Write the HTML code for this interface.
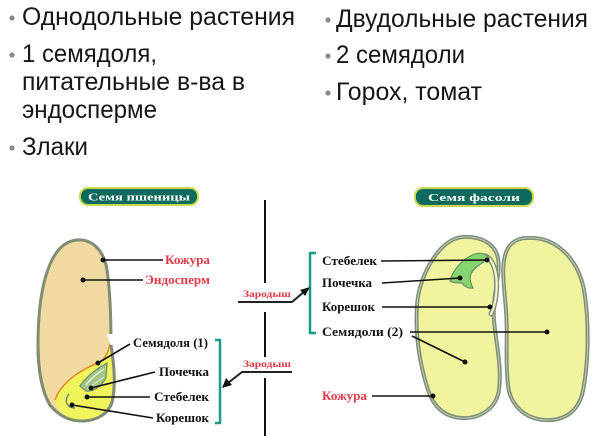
<!DOCTYPE html>
<html><head><meta charset="utf-8"><style>
html,body{margin:0;padding:0;background:#fff;}
svg{display:block;}
.t{font-family:"Liberation Sans","Noto Sans CJK SC",sans-serif;font-size:25px;fill:#161616;}
.l{font-family:"Liberation Serif","Noto Serif CJK SC",serif;font-size:13px;font-weight:bold;fill:#111;}
.r{fill:#e03a48;}
.z{font-family:"Liberation Serif",serif;font-size:9.5px;font-weight:bold;fill:#e03a48;}
.b{font-family:"Liberation Serif",serif;font-size:11px;font-weight:bold;fill:#fff;}
</style></head><body>
<svg width="600" height="436" viewBox="0 0 600 436" xmlns="http://www.w3.org/2000/svg">
<rect width="600" height="436" fill="#fff"/>
<!-- top text -->
<g fill="#8a8a8a">
<circle cx="12" cy="18" r="2.6"/><circle cx="12" cy="55" r="2.6"/><circle cx="12" cy="148" r="2.6"/>
<circle cx="328" cy="20" r="2.6"/><circle cx="328" cy="56" r="2.6"/><circle cx="328" cy="93" r="2.6"/>
</g>
<text class="t" x="22" y="25" textLength="273" lengthAdjust="spacingAndGlyphs">Однодольные растения</text>
<text class="t" x="22" y="62" textLength="135" lengthAdjust="spacingAndGlyphs">1 семядоля,</text>
<text class="t" x="22" y="90" textLength="223" lengthAdjust="spacingAndGlyphs">питательные в-ва в</text>
<text class="t" x="22" y="118" textLength="135" lengthAdjust="spacingAndGlyphs">эндосперме</text>
<text class="t" x="22" y="155" textLength="66" lengthAdjust="spacingAndGlyphs">Злаки</text>
<text class="t" x="336" y="27" textLength="252" lengthAdjust="spacingAndGlyphs">Двудольные растения</text>
<text class="t" x="336" y="63" textLength="129" lengthAdjust="spacingAndGlyphs">2 семядоли</text>
<text class="t" x="336" y="100" textLength="146" lengthAdjust="spacingAndGlyphs">Горох, томат</text>

<!-- badges -->
<rect x="80" y="188" width="118" height="17" rx="8" fill="#0d6a5c" stroke="#c9d94c" stroke-width="2"/>
<text class="b" x="88" y="200.5" textLength="102" lengthAdjust="spacingAndGlyphs">Семя пшеницы</text>
<rect x="415" y="188" width="118" height="18" rx="8" fill="#0d6a5c" stroke="#c9d94c" stroke-width="2"/>
<text class="b" x="428" y="201" textLength="92" lengthAdjust="spacingAndGlyphs">Семя фасоли</text>

<!-- center line -->
<g stroke="#111" stroke-width="2">
<line x1="265" y1="200" x2="265" y2="283"/>
<line x1="265" y1="312" x2="265" y2="357"/>
<line x1="265" y1="378" x2="265" y2="436"/>
</g>

<!-- wheat seed -->
<path d="M77 240 C92 239,104 250,107 270 C110 290,111 320,111 345 C114 365,116 385,112 402 C108 415,95 421,82 421 C68 421,58 415,50 405 C42 392,38 370,38 345 C38 310,42 280,52 260 C58 248,66 241,77 240 Z" fill="#f1d9a2" stroke="#7f8d74" stroke-width="3"/>
<path d="M55 400 C62 380,85 368,100 362 C106 358,109 350,110 344 L112 350 C115 370,116 390,112 402 C108 415,95 421,82 421 C68 421,58 413,55 400 Z" fill="#f0f45c"/>
<path d="M55 400 C62 380,85 368,100 362 C106 358,109 350,110 344" fill="none" stroke="#e08a2a" stroke-width="1.5"/>
<path d="M107 334 L113 334 L114 350 L110 344 Z" fill="#fff"/>
<path d="M80 386 C86 377,96 369,107 363 L106 378 C101 387,93 392,86 391 Z" fill="#a4c684" stroke="#6f8f70" stroke-width="1.2"/>
<path d="M86 385 C91 378,98 373,104 369" fill="none" stroke="#e8efe0" stroke-width="1.5"/>
<path d="M88 389 C93 384,98 381,104 377" fill="none" stroke="#d8e8c8" stroke-width="1.2"/>
<path d="M69 394 C64 400,66 408,75 408" fill="none" stroke="#6f8f70" stroke-width="1.5"/>
<path d="M38 345 C38 370,42 392,50 405 C58 415,68 421,82 421 C95 421,108 415,112 402 C116 385,114 365,111 345" fill="none" stroke="#7f8d74" stroke-width="3"/>

<!-- wheat labels -->
<g stroke="#111" stroke-width="1.6" fill="none">
<line x1="103" y1="260" x2="163" y2="260"/>
<line x1="83" y1="280" x2="143" y2="280"/>
<line x1="130" y1="344" x2="98" y2="363"/>
<line x1="155" y1="372" x2="91" y2="388"/>
<line x1="150" y1="397" x2="87" y2="397"/>
<line x1="153" y1="418" x2="72" y2="405"/>
</g>
<g fill="#111">
<circle cx="103" cy="260" r="2.5"/><circle cx="83" cy="280" r="2.5"/><circle cx="98" cy="363" r="2.5"/>
<circle cx="91" cy="388" r="2.5"/><circle cx="87" cy="397" r="2.5"/><circle cx="72" cy="405" r="2.5"/>
</g>
<text class="l r" x="210" y="264" text-anchor="end" textLength="45" lengthAdjust="spacingAndGlyphs">Кожура</text>
<text class="l r" x="210" y="284" text-anchor="end" textLength="65" lengthAdjust="spacingAndGlyphs">Эндосперм</text>
<text class="l" x="208" y="347" text-anchor="end" textLength="75" lengthAdjust="spacingAndGlyphs">Семядоля (1)</text>
<text class="l" x="209" y="376" text-anchor="end" textLength="50" lengthAdjust="spacingAndGlyphs">Почечка</text>
<text class="l" x="209" y="401" text-anchor="end" textLength="55" lengthAdjust="spacingAndGlyphs">Стебелек</text>
<text class="l" x="209" y="422" text-anchor="end" textLength="53" lengthAdjust="spacingAndGlyphs">Корешок</text>

<!-- brackets -->
<path d="M215 340 L220 340 L220 423 L215 423" fill="none" stroke="#1a9a8a" stroke-width="2.5"/>
<path d="M316 253 L310 253 L310 333 L316 333" fill="none" stroke="#1a9a8a" stroke-width="2.5"/>

<!-- Зародыш arrows -->
<text class="z" x="243" y="297" textLength="48" lengthAdjust="spacingAndGlyphs">Зародыш</text>
<polyline points="238,302 292,302 305,291" fill="none" stroke="#222" stroke-width="2"/>
<polygon points="310,287 300,290 305,296" fill="#111"/>
<text class="z" x="243" y="367" textLength="48" lengthAdjust="spacingAndGlyphs">Зародыш</text>
<polyline points="292,372 242,372 228,383" fill="none" stroke="#222" stroke-width="2"/>
<polygon points="222,388 226,378 232,385" fill="#111"/>

<!-- bean -->
<path d="M463 237 C480 236,495 243,498 258 C501 275,492 295,494 320 C496 345,502 365,499 390 C496 410,478 419,462 418 C443 417,433 405,428 390 C420 365,415 335,417 305 C419 275,440 238,463 237 Z" fill="#f1f49e" stroke="#7d8e7e" stroke-width="4"/>
<path d="M463 237 C480 236,495 243,498 258 C501 275,492 295,494 320 C496 345,502 365,499 390 C496 410,478 419,462 418 C443 417,433 405,428 390 C420 365,415 335,417 305 C419 275,440 238,463 237 Z" fill="none" stroke="#c4cfa6" stroke-width="1"/>
<path d="M527 238 C555 236,578 258,584 290 C590 325,588 370,582 395 C576 415,560 421,545 420 C525 419,510 405,508 385 C505 360,508 335,506 310 C504 285,500 262,508 248 C512 241,520 238,527 238 Z" fill="#f1f49e" stroke="#7d8e7e" stroke-width="4"/>
<path d="M527 238 C555 236,578 258,584 290 C590 325,588 370,582 395 C576 415,560 421,545 420 C525 419,510 405,508 385 C505 360,508 335,506 310 C504 285,500 262,508 248 C512 241,520 238,527 238 Z" fill="none" stroke="#c4cfa6" stroke-width="1"/>
<!-- embryo -->
<path d="M486 256 C496 262,498 280,496 296 C495 304,493 310,491 314" fill="none" stroke="#7d8e7e" stroke-width="5" stroke-linecap="round"/>
<path d="M486 256 C496 262,498 280,496 296 C495 304,493 310,491 314" fill="none" stroke="#f4f7c8" stroke-width="2.2" stroke-linecap="round"/>
<path d="M450 281 C452 272,460 261,472 255 C478 252,486 253,489 258 C484 262,476 266,472 272 C469 277,470 282,473 288 C468 289,464 286,462 283 C458 283,453 283,450 281 Z" fill="#86d46e" stroke="#6a8f68" stroke-width="1.2"/>

<!-- bean labels -->
<g stroke="#111" stroke-width="1.6" fill="none">
<line x1="381" y1="261" x2="487" y2="260"/>
<line x1="382" y1="283" x2="460" y2="278"/>
<line x1="382" y1="307" x2="490" y2="307"/>
<line x1="410" y1="332" x2="547" y2="332"/>
<line x1="412" y1="336" x2="465" y2="362"/>
<line x1="372" y1="396" x2="433" y2="396"/>
</g>
<g fill="#111">
<circle cx="487" cy="260" r="2.5"/><circle cx="460" cy="278" r="2.5"/><circle cx="490" cy="307" r="2.5"/>
<circle cx="547" cy="332" r="2.5"/><circle cx="465" cy="362" r="2.5"/><circle cx="433" cy="396" r="2.5"/>
</g>
<text class="l" x="322" y="265" textLength="55" lengthAdjust="spacingAndGlyphs">Стебелек</text>
<text class="l" x="322" y="287" textLength="50" lengthAdjust="spacingAndGlyphs">Почечка</text>
<text class="l" x="322" y="311" textLength="53" lengthAdjust="spacingAndGlyphs">Корешок</text>
<text class="l" x="322" y="336" textLength="81" lengthAdjust="spacingAndGlyphs">Семядоли (2)</text>
<text class="l r" x="322" y="400" textLength="45" lengthAdjust="spacingAndGlyphs">Кожура</text>
</svg>
</body></html>
